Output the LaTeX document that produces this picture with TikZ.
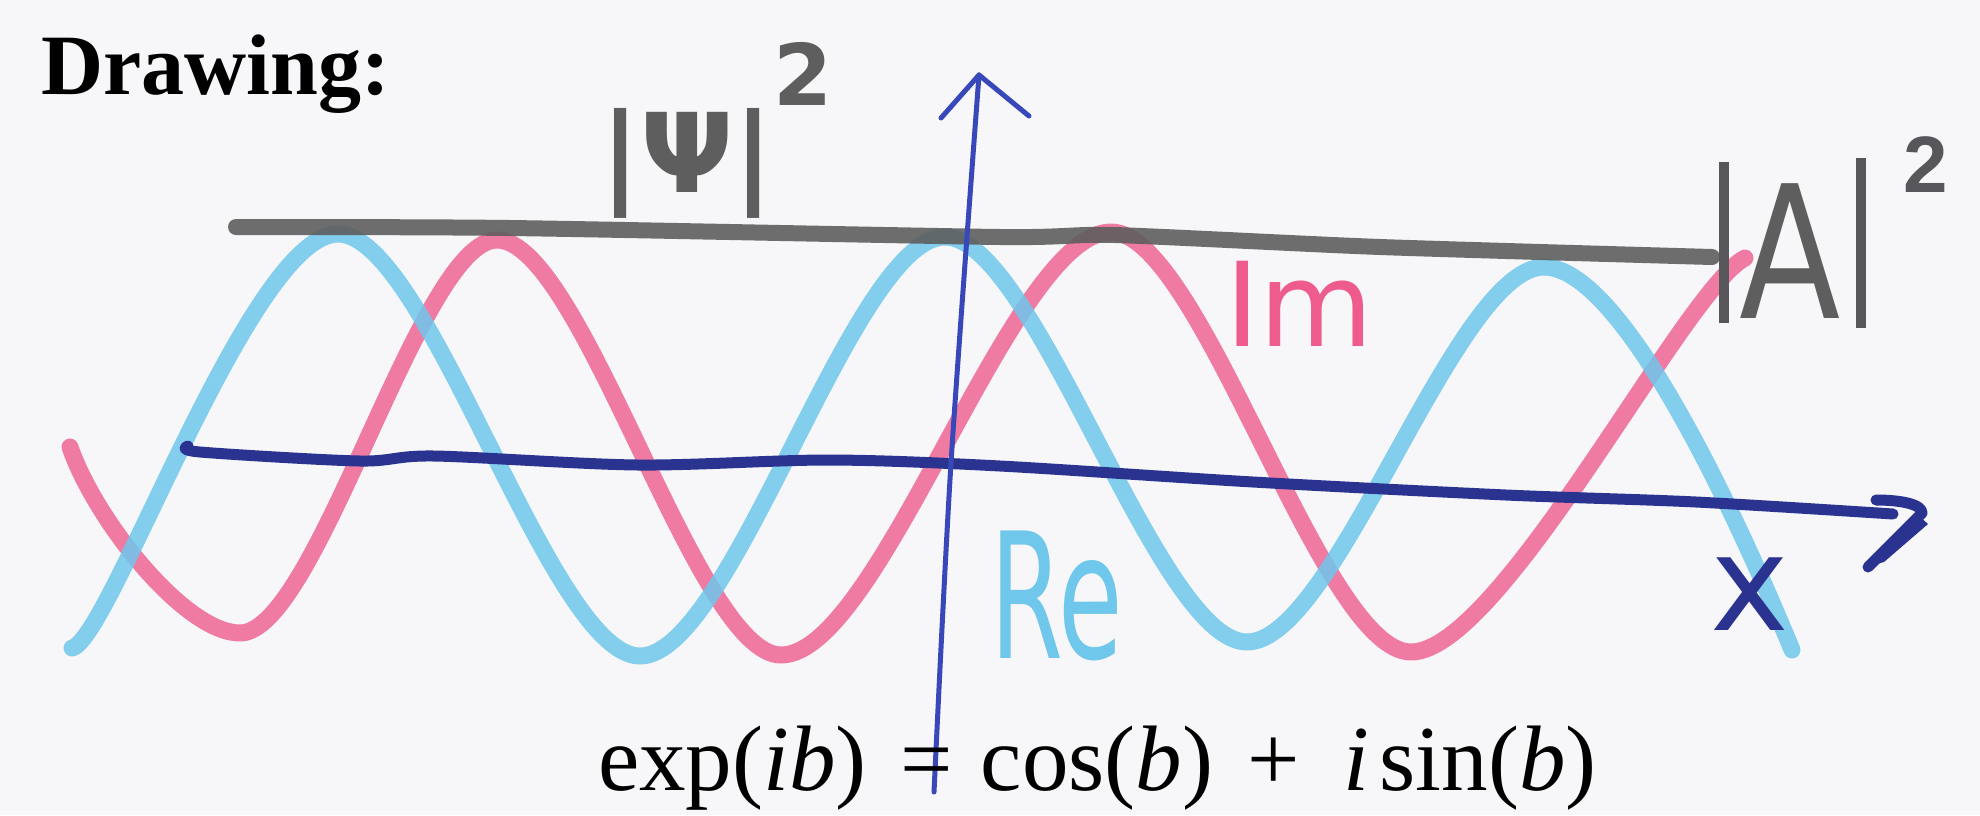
\documentclass[tikz,border=0pt]{standalone}
\usepackage{fontspec}
\usepackage{graphicx}
\setmainfont{Liberation Serif}
\newfontfamily\hand{DejaVu Sans}
\newfontfamily\helv{Liberation Sans}
\definecolor{paper}{HTML}{F7F7F9}
\definecolor{navy}{HTML}{2B3391}
\definecolor{axblue}{HTML}{3848B8}
\definecolor{crayonblue}{HTML}{6FC7EC}
\definecolor{crayonpink}{HTML}{EE5C8E}
\definecolor{pencil}{HTML}{5E5E5E}
\definecolor{bargray}{HTML}{57575B}
\tikzset{
  txt/.style={inner sep=0pt, outer sep=0pt},
  pinkwave/.style={draw=crayonpink, line width=17pt, opacity=0.8},
  cyanwave/.style={draw=crayonblue, line width=17pt, opacity=0.85},
  pencilline/.style={draw=pencil, line width=16pt, opacity=0.9},
  haxis/.style={draw=navy, line width=11pt},
  vaxis/.style={draw=axblue, line width=5pt},
  absbar/.style={draw=bargray, line width=10pt, line cap=butt}
}
\begin{document}
\begin{tikzpicture}[x=1pt,y=-1pt,line cap=round,line join=round]
\fill[paper] (0,0) rectangle (1980,815);
\useasboundingbox (0,0) rectangle (1980,815);

% pink (Im) wave
\draw[pinkwave] (70,447) .. controls (95,520) and (185,633) .. (240,633)
  .. controls +(77,0) and +(-77,0) .. (497,240)
  .. controls +(85,0) and +(-85,0) .. (781,655)
  .. controls +(99,0) and +(-99,0) .. (1111,232)
  .. controls +(90,0) and +(-90,0) .. (1411,652)
  .. controls +(90,0) and +(-60,30) .. (1745,258);

% cyan (Re) wave
\draw[cyanwave] (72,648) .. controls (110,640) and (250,234) .. (338,234)
  .. controls +(90,0) and +(-90,0) .. (640,656)
  .. controls +(92,0) and +(-92,0) .. (945,237)
  .. controls +(90,0) and +(-90,0) .. (1247,642)
  .. controls +(89,0) and +(-89,0) .. (1544,267)
  .. controls +(85,0) and (1755,560) .. (1792,650);

% pencil |A|^2 level line
\draw[pencilline] plot[smooth,tension=0.4] coordinates {(236,227) (510,228) (1000,237) (1114,235) (1380,247) (1712,257)};

% horizontal axis with hand-drawn head
\draw[haxis] plot[smooth,tension=0.5] coordinates {(188,446) (200,452) (360,461) (434,456) (638,465) (829,460) (1000,466) (1253,482) (1506,495) (1696,502) (1893,514)};
\coordinate (hh1) at (1876,500);
\coordinate (hh2) at (1922,513);
\coordinate (hh3) at (1868,567);
\draw[haxis] (hh1) .. controls (1900,500) and (1922,504) .. (hh2) -- (hh3);
\fill[navy] (1918,515) -- (1928,524) -- (1884,562) -- (1870,566) -- cycle;

% vertical axis
\coordinate (vtip) at (979,75);
\draw[vaxis] plot[smooth] coordinates {(934,792) (951,463) (979,75)};
\draw[vaxis] (vtip) -- (941,118);
\draw[vaxis] (vtip) -- (1029,116);

% labels
\node[txt, anchor=base west, font=\bfseries\fontsize{86}{86}\selectfont] (title) at (41,94) {Drawing:};

\node[txt, anchor=base west, text=pencil, font=\hand\bfseries\fontsize{110}{110}\selectfont] (psi) at (600,192) {|Ψ|\raisebox{87pt}{\fontsize{85}{85}\selectfont 2}};

\node[txt, anchor=base west, text=crayonpink, font=\hand\fontsize{117}{117}\selectfont] (im) at (1225,346) {Im};

\node[txt, anchor=base west, text=crayonblue, font=\hand\fontsize{175}{175}\selectfont] (re) at (990,658) {\scalebox{0.6}[1]{Re}};

\node[txt, anchor=base west, text=navy, font=\hand\fontsize{133}{133}\selectfont] (xlab) at (1710,630) {x};

\draw[absbar] (1724,162) -- (1724,323);
\draw[absbar] (1861,158) -- (1861,328);
\node[txt, anchor=base, text=pencil, font=\hand\fontsize{185}{185}\selectfont] (alab) at (1790,318) {\scalebox{0.8}[1]{A}};
\node[txt, anchor=base west, text=bargray, font=\helv\bfseries\fontsize{80}{80}\selectfont] (two) at (1903,192) {2};

\node[txt, anchor=base west, font=\fontsize{93}{93}\selectfont] (eq) at (598,790)
  {exp(\textit{ib})\hspace{34pt}=\hspace{28pt}cos(\textit{b})\hspace{34pt}+\hspace{44pt}\textit{i}\hspace{10pt}sin(\textit{b})};
\end{tikzpicture}
\end{document}
